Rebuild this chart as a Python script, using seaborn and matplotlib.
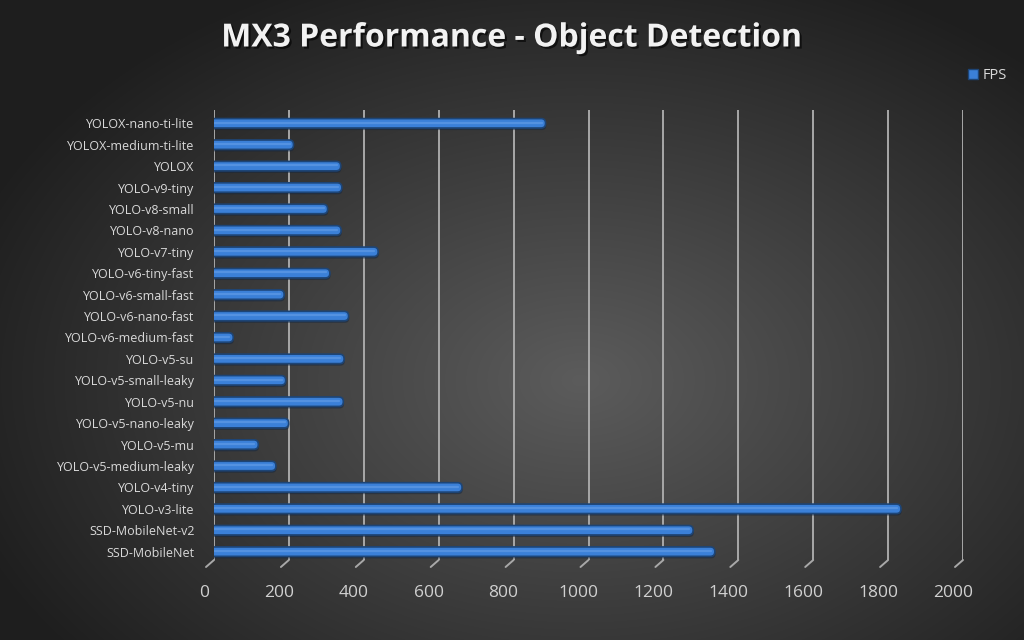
import numpy as np
import pandas as pd
import matplotlib
matplotlib.use("Agg")
import matplotlib.pyplot as plt
import matplotlib.patheffects as pe
import matplotlib.transforms as mtransforms
from matplotlib.patches import FancyBboxPatch
from matplotlib.lines import Line2D
import seaborn as sns

# data, top to bottom as shown
models = [
    "YOLOX-nano-ti-lite", "YOLOX-medium-ti-lite", "YOLOX", "YOLO-v9-tiny",
    "YOLO-v8-small", "YOLO-v8-nano", "YOLO-v7-tiny", "YOLO-v6-tiny-fast",
    "YOLO-v6-small-fast", "YOLO-v6-nano-fast", "YOLO-v6-medium-fast",
    "YOLO-v5-su", "YOLO-v5-small-leaky", "YOLO-v5-nu", "YOLO-v5-nano-leaky",
    "YOLO-v5-mu", "YOLO-v5-medium-leaky", "YOLO-v4-tiny", "YOLO-v3-lite",
    "SSD-MobileNet-v2", "SSD-MobileNet",
]
fps = [896, 223, 349, 352, 314, 350, 449, 320, 198, 370, 62,
       358, 202, 356, 210, 129, 176, 673, 1845, 1290, 1348]
x_ticks = [0, 200, 400, 600, 800, 1000, 1200, 1400, 1600, 1800, 2000]

df = pd.DataFrame({"model": models, "FPS": fps})

sns.set_theme(style="dark")
plt.rcParams["font.family"] = ["Open Sans", "DejaVu Sans"]

W, H = 1024, 640
fig = plt.figure(figsize=(W / 100, H / 100), dpi=100)

# radial gradient background
bg = fig.add_axes([0, 0, 1, 1], zorder=-10)
yy, xx = np.mgrid[0:H, 0:W]
r = np.sqrt(((xx - 580) / 620.0) ** 2 + ((yy - 380) / 420.0) ** 2)
shade = np.clip(0.36 - 0.23 * r, 0.12, 0.37)
bg.imshow(np.dstack([shade] * 3), aspect="auto", extent=[0, 1, 0, 1])
bg.axis("off")

ax = fig.add_axes([214 / W, 1 - 560 / H, 749 / W, 450 / H])
ax.patch.set_alpha(0)

bar_color = "#3b80d8"
sns.barplot(data=df, x="FPS", y="model", orient="h", color=bar_color,
            width=0.44, ax=ax, saturation=1)

ax.set_xlim(0, 2000)
ax.set_ylim(20.39, -0.62)

# rounded, cylinder-like bars
shift = mtransforms.ScaledTranslation(-0.04, 0, fig.dpi_scale_trans)
x_per_px = 2000 / 749.0
y_per_px = 21.01 / 450.0
for p in list(ax.patches):
    x0, y0, w, h = p.get_x(), p.get_y(), p.get_width(), p.get_height()
    p.remove()
    rad = 4.5 * x_per_px
    box = FancyBboxPatch((x0, y0), w, h,
                         boxstyle=f"round,pad=0,rounding_size={rad}",
                         mutation_aspect=y_per_px / x_per_px,
                         facecolor=bar_color, edgecolor="#1d4577", lw=1.2,
                         transform=ax.transData + shift, zorder=3,
                         path_effects=[pe.SimplePatchShadow(offset=(0.5, -1.5),
                                                            alpha=0.5),
                                       pe.Normal()])
    ax.add_patch(box)
    ax.plot([x0 + 4 * x_per_px, x0 + w - 4 * x_per_px], [y0 + h * 0.42] * 2,
            color="#5f9be6", lw=1.6, alpha=0.7, solid_capstyle="round",
            transform=ax.transData + shift, zorder=4)

# grid lines with slanted feet
ax.set_xticks(x_ticks)
ax.grid(False)
for xt in x_ticks:
    ax.axvline(xt, color="#a8a8a8", lw=1.4, zorder=1)
    px, py = ax.transData.transform((xt, 20.39))
    fig.lines.append(Line2D([px, px - 8], [py, py - 7], color="#a8a8a8",
                            lw=1.4, transform=None))

for s in ax.spines.values():
    s.set_visible(False)

ax.set_xlabel("")
ax.set_ylabel("")
ax.tick_params(axis="x", colors="#d0d0d0", labelsize=12.5, length=0, pad=18)
ax.tick_params(axis="y", colors="#d9d9d9", labelsize=9, length=0, pad=14)
tick_shift = mtransforms.ScaledTranslation(-0.10, 0, fig.dpi_scale_trans)
for lab in ax.get_xticklabels():
    lab.set_transform(lab.get_transform() + tick_shift)

# legend
ax.legend([plt.Rectangle((0, 0), 1, 1, fc=bar_color, ec="#1d4577")], ["FPS"],
          loc="upper left", bbox_to_anchor=(962 / W, 1 - 62 / H),
          bbox_transform=fig.transFigure, frameon=False, fontsize=10.5,
          labelcolor="#d9d9d9", handlelength=0.7, handleheight=0.7,
          handletextpad=0.3, borderaxespad=0)

fig.text(0.5, 1 - 38 / H, "MX3 Performance - Object Detection", ha="center",
         va="center", fontsize=23, fontweight="bold", color="#f2f2f2",
         path_effects=[pe.withSimplePatchShadow(offset=(1.5, -1.5),
                                                shadow_rgbFace="black", alpha=0.6)])

fig.savefig("out.png", dpi=100)
